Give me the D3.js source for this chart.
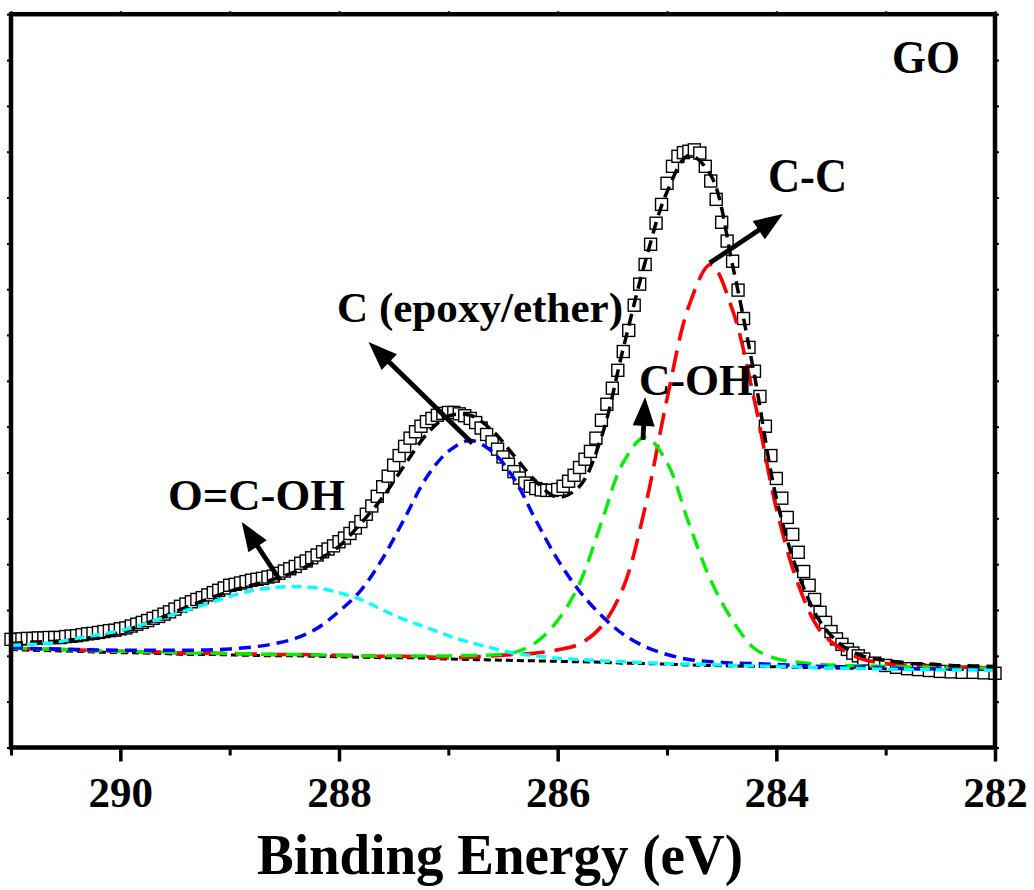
<!DOCTYPE html>
<html><head><meta charset="utf-8">
<script src="https://cdn.jsdelivr.net/npm/d3@7"></script>
<style>
html,body{margin:0;padding:0;background:#fff;} svg{display:block;}
svg text{font-family:"Liberation Serif","Times New Roman","Nimbus Roman","DejaVu Serif",serif !important;font-weight:bold;}
</style>
</head><body>
<svg id="chart" width="1034" height="890"></svg>
<script>
// ---------- DATA ----------
// Measured spectrum (binding energy in eV, intensity in arbitrary units)
const eData = [
291.00,290.95,290.90,290.85,290.80,290.75,290.70,290.65,290.60,290.55,
290.50,290.45,290.40,290.35,290.30,290.25,290.20,290.15,290.10,290.05,
290.00,289.95,289.90,289.85,289.80,289.75,289.70,289.65,289.60,289.55,
289.50,289.45,289.40,289.35,289.30,289.25,289.20,289.15,289.10,289.05,
289.00,288.95,288.90,288.85,288.80,288.75,288.70,288.65,288.60,288.55,
288.50,288.45,288.40,288.35,288.30,288.25,288.20,288.15,288.10,288.05,
288.00,287.95,287.90,287.85,287.80,287.75,287.70,287.65,287.60,287.55,
287.50,287.45,287.40,287.35,287.30,287.25,287.20,287.15,287.10,287.05,
287.00,286.95,286.90,286.85,286.80,286.75,286.70,286.65,286.60,286.55,
286.50,286.45,286.40,286.35,286.30,286.25,286.20,286.15,286.10,286.05,
286.00,285.95,285.90,285.85,285.80,285.75,285.70,285.65,285.60,285.55,
285.50,285.45,285.40,285.35,285.30,285.25,285.20,285.15,285.10,285.05,
285.00,284.95,284.90,284.85,284.80,284.75,284.70,284.65,284.60,284.55,
284.50,284.45,284.40,284.35,284.30,284.25,284.20,284.15,284.10,284.05,
284.00,283.95,283.90,283.85,283.80,283.75,283.70,283.65,283.60,283.55,
283.50,283.45,283.40,283.35,283.30,283.25,283.20,
283.10,283.00,282.90,282.80,282.70,282.60,282.50,282.40,282.30,282.20,282.10,282.00
];
const iData = [
2.36,2.36,2.37,2.38,2.38,2.39,2.39,2.40,2.40,2.40,
2.42,2.43,2.44,2.46,2.48,2.49,2.51,2.53,2.55,2.56,
2.59,2.61,2.65,2.69,2.73,2.77,2.82,2.86,2.91,2.96,
3.02,3.08,3.13,3.18,3.23,3.27,3.33,3.38,3.43,3.48,
3.54,3.56,3.59,3.62,3.65,3.67,3.69,3.72,3.74,3.80,
3.85,3.90,3.95,4.02,4.07,4.14,4.20,4.27,4.33,4.40,
4.49,4.57,4.67,4.79,4.93,5.09,5.27,5.48,5.69,5.92,
6.16,6.37,6.57,6.75,6.89,7.01,7.11,7.18,7.25,7.29,
7.31,7.31,7.28,7.24,7.18,7.09,6.97,6.83,6.67,6.51,
6.34,6.18,6.02,5.88,5.77,5.70,5.65,5.62,5.61,5.61,
5.63,5.70,5.81,5.94,6.11,6.29,6.46,6.75,7.14,7.49,
7.84,8.23,8.64,9.10,9.65,10.11,10.54,10.98,11.44,11.85,
12.31,12.68,12.90,12.98,13.01,13.04,12.97,12.68,12.36,11.96,
11.46,11.05,10.61,9.98,9.36,8.73,8.21,7.66,7.01,6.37,
5.87,5.44,5.02,4.65,4.26,3.84,3.54,3.23,2.95,2.73,
2.53,2.37,2.25,2.14,2.06,2.00,1.93,
1.84,1.79,1.75,1.72,1.70,1.68,1.66,1.65,1.64,1.64,1.63,1.62
];

// Fitted curves, read on a 0.2 eV grid
const gridE = [
291.0,290.8,290.6,290.4,290.2,290.0,289.8,289.6,289.4,289.2,
289.0,288.8,288.6,288.4,288.2,288.0,287.8,287.6,287.4,287.2,
287.0,286.8,286.6,286.4,286.2,286.0,285.8,285.6,285.4,285.2,
285.0,284.8,284.6,284.4,284.2,284.0,283.8,283.6,283.4,283.2,
283.0,282.8,282.6,282.4,282.2,282.0
];
const background = [
2.14,2.12,2.11,2.10,2.08,2.07,2.06,2.05,2.03,2.03,
2.02,2.01,2.00,2.00,1.99,1.98,1.97,1.96,1.96,1.95,
1.93,1.92,1.91,1.90,1.89,1.88,1.87,1.86,1.84,1.83,
1.82,1.80,1.79,1.78,1.77,1.76,1.75,1.74,1.73,1.73,
1.72,1.72,1.71,1.71,1.70,1.70
];
const peakCC = [
2.17,2.15,2.14,2.13,2.11,2.10,2.09,2.08,2.06,2.06,
2.05,2.04,2.03,2.03,2.02,2.01,2.00,1.99,1.99,1.98,
1.96,1.97,2.00,2.03,2.06,2.13,2.26,2.64,3.49,5.24,
7.60,9.63,10.54,9.54,7.57,5.22,3.56,2.55,2.14,1.92,
1.83,1.79,1.77,1.75,1.75,1.74
];
const peakCOH = [
2.17,2.15,2.14,2.13,2.11,2.10,2.09,2.08,2.06,2.06,
2.05,2.04,2.03,2.03,2.02,2.01,2.00,2.00,2.00,2.00,
2.00,2.01,2.02,2.07,2.29,2.77,3.58,4.91,6.22,6.77,
6.22,4.89,3.65,2.77,2.16,1.94,1.86,1.81,1.79,1.78,
1.77,1.76,1.75,1.75,1.74,1.72
];
const peakEpoxy = [
2.18,2.16,2.15,2.14,2.13,2.12,2.12,2.12,2.12,2.13,
2.15,2.19,2.26,2.38,2.60,2.97,3.43,4.13,5.00,5.89,
6.46,6.70,6.46,5.87,4.96,4.10,3.41,2.88,2.47,2.20,
2.03,1.92,1.87,1.84,1.83,1.81,1.79,1.77,1.76,1.75,
1.74,1.72,1.72,1.71,1.71,1.70
];
const peakCOOH = [
2.23,2.25,2.29,2.38,2.46,2.55,2.68,2.84,2.99,3.14,
3.30,3.42,3.49,3.51,3.48,3.38,3.23,3.00,2.79,2.62,
2.44,2.29,2.17,2.06,2.00,1.95,1.92,1.89,1.87,1.85,
1.83,1.82,1.81,1.79,1.78,1.77,1.76,1.74,1.73,1.72,
1.71,1.70,1.70,1.69,1.69,1.68
];
const envelope = [
2.27,2.30,2.32,2.36,2.42,2.51,2.68,2.86,3.06,3.24,
3.41,3.54,3.67,3.84,4.08,4.39,4.89,5.46,6.16,6.83,
7.23,7.25,6.92,6.37,5.81,5.46,5.70,6.77,8.71,10.59,
12.12,12.92,12.49,10.52,8.12,5.44,3.80,2.75,2.23,1.99,
1.90,1.84,1.82,1.79,1.78,1.77
];

const xMajorTicks = [290, 288, 286, 284, 282];
const xMinorTicks = [291, 289, 287, 285, 283];
const xAllTicks = [291, 290, 289, 288, 287, 286, 285, 284, 283, 282];
const yTicks = [0,1,2,3,4,5,6,7,8,9,10,11,12,13,14,15,16];

// Annotations: label text and the arrow's tail/tip in data coordinates
const peakLabels = ["C-C", "C (epoxy/ether)", "C-OH", "O=C-OH"];
const arrowTail = [[284.61, 10.57], [286.78, 6.64], [285.22, 6.71], [288.54, 3.65]];
const arrowTip  = [[283.94, 11.64], [287.73, 8.85], [285.20, 7.65], [288.89, 4.92]];
const sampleName = "GO";
const xTitle = "Binding Energy (eV)";

// ---------- LAYOUT / STYLE ----------
const L = 11, R = 995, T = 14.2, B = 747.5;
const svg = d3.select("#chart");

const x = d3.scaleLinear().domain([291, 282]).range([L, R]);
const y = d3.scaleLinear().domain([0, 16]).range([B, T]);

// axes
const gB = svg.append("g").attr("transform", `translate(0,${B})`)
  .call(d3.axisBottom(x).tickValues(xMajorTicks).tickSize(14).tickSizeOuter(0).tickFormat(d3.format("d")));
gB.select(".domain").remove();
gB.selectAll(".tick line").attr("stroke", "#000").attr("stroke-width", 3.5);
gB.selectAll(".tick text").attr("y", 59.5).attr("dy", null)
  .style("font-size", "43px").attr("fill", "#000");

const gBm = svg.append("g").attr("transform", `translate(0,${B})`)
  .call(d3.axisBottom(x).tickValues(xMinorTicks).tickSize(8).tickSizeOuter(0).tickFormat(""));
gBm.select(".domain").remove();
gBm.selectAll(".tick line").attr("stroke", "#000").attr("stroke-width", 3);

const gT = svg.append("g").attr("transform", `translate(0,${T})`)
  .call(d3.axisTop(x).tickValues(xAllTicks).tickSize(3).tickSizeOuter(0).tickFormat(""));
gT.select(".domain").remove();
gT.selectAll(".tick line").attr("stroke", "#000").attr("stroke-width", 2);

const gL = svg.append("g").attr("transform", `translate(${L},0)`)
  .call(d3.axisLeft(y).tickValues(yTicks).tickSize(4).tickSizeOuter(0).tickFormat(""));
gL.select(".domain").remove();
gL.selectAll(".tick line").attr("stroke", "#000").attr("stroke-width", 2);

const gR = svg.append("g").attr("transform", `translate(${R},0)`)
  .call(d3.axisRight(y).tickValues(yTicks).tickSize(4).tickSizeOuter(0).tickFormat(""));
gR.select(".domain").remove();
gR.selectAll(".tick line").attr("stroke", "#000").attr("stroke-width", 2);

// data squares
const pts = eData.map((e, i) => [e, iData[i]]);
const S = 12;
svg.append("g").selectAll("rect").data(pts).join("rect")
  .attr("x", d => x(d[0]) - S / 2).attr("y", d => y(d[1]) - S / 2)
  .attr("width", S).attr("height", S)
  .attr("fill", "#fff").attr("stroke", "#000").attr("stroke-width", 1.4);

// fitted curves
const line = d3.line().x(d => x(d[0])).y(d => y(d[1])).curve(d3.curveCatmullRom.alpha(0.5));
const curves = [
  {v: background, c: "#000", w: 3, dash: "7,4"},
  {v: peakCC, c: "#ff0000", w: 3.6, dash: "22,10"},
  {v: peakCOH, c: "#00f000", w: 3.4, dash: "16,9"},
  {v: peakEpoxy, c: "#0000ff", w: 3.5, dash: "12,7"},
  {v: envelope, c: "#000", w: 3.5, dash: "12,7"},
  {v: peakCOOH, c: "#00ffff", w: 3.4, dash: "10,6"}
];
curves.forEach(cv => {
  svg.append("path").datum(gridE.map((e, i) => [e, cv.v[i]]))
    .attr("d", line).attr("fill", "none").attr("stroke", cv.c)
    .attr("stroke-width", cv.w).attr("stroke-dasharray", cv.dash);
});

// frame
svg.append("rect").attr("x", L).attr("y", T).attr("width", R - L).attr("height", B - T)
  .attr("fill", "none").attr("stroke", "#000").attr("stroke-width", 4.5);

// arrows
function arrow(from, to) {
  const x1 = x(from[0]), y1 = y(from[1]), x2 = x(to[0]), y2 = y(to[1]);
  const dx = x2 - x1, dy = y2 - y1, len = Math.hypot(dx, dy);
  const ux = dx / len, uy = dy / len, hl = 29, hw = 11;
  const bx = x2 - ux * hl, by = y2 - uy * hl;
  svg.append("line").attr("x1", x1).attr("y1", y1).attr("x2", bx + ux * 2).attr("y2", by + uy * 2)
    .attr("stroke", "#000").attr("stroke-width", 4.8);
  svg.append("path")
    .attr("d", `M${x2},${y2} L${bx - uy * hw},${by + ux * hw} L${bx + uy * hw},${by - ux * hw} Z`)
    .attr("fill", "#000");
}
arrowTail.forEach((t, i) => arrow(t, arrowTip[i]));

// labels
const labelPos = [[768, 192], [337, 322], [639, 395], [168, 510]];
const labelSize = [48, 43, 45, 44];
const labelWidth = [79, 286, 114, 177];
peakLabels.forEach((t, i) => {
  svg.append("text").attr("x", labelPos[i][0]).attr("y", labelPos[i][1])
    .style("font-size", labelSize[i] + "px")
    .attr("textLength", labelWidth[i]).attr("lengthAdjust", "spacingAndGlyphs")
    .attr("fill", "#000").text(t);
});
svg.append("text").attr("x", 892).attr("y", 73)
  .style("font-size", "47px").attr("textLength", 68).attr("lengthAdjust", "spacingAndGlyphs")
  .attr("fill", "#000").text(sampleName);
svg.append("text").attr("x", 500).attr("y", 874).attr("text-anchor", "middle")
  .style("font-size", "58px")
  .attr("textLength", 486).attr("lengthAdjust", "spacingAndGlyphs")
  .attr("fill", "#000").text(xTitle);
</script>
</body></html>
